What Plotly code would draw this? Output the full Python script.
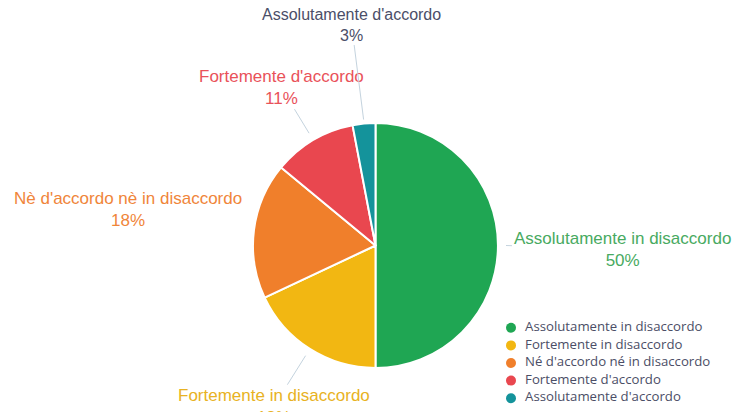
import math
import plotly.graph_objects as go

# Survey answers, in the order they appear in the legend
categories = [
    "Assolutamente in disaccordo",
    "Fortemente in disaccordo",
    "Nè d'accordo nè in disaccordo",
    "Fortemente d'accordo",
    "Assolutamente d'accordo",
]
legend_names = [
    "Assolutamente in disaccordo",
    "Fortemente in disaccordo",
    "Né d'accordo né in disaccordo",
    "Fortemente d'accordo",
    "Assolutamente d'accordo",
]
shares = [50, 18, 18, 11, 3]

slice_colors = ["#1fa653", "#f2b712", "#f07f2b", "#e9474f", "#14939b"]
label_colors = ["#48aa61", "#e8b223", "#f0853a", "#e9525a", "#4b4e68"]
label_sizes = [17, 17, 17, 17, 16]
# text offsets (px) from each leader-line tip
label_offsets = [(116, 4), (-32, 51), (-122, -20), (-28, -46), (-12, -95)]
tip_radius_extra = [8, 8, 4, 8, 4]
show_leader = [True, True, False, True, True]

W, H = 744, 412
CX, CY, R = 375.5, 245.5, 122.5

fig = go.Figure()

fig.add_trace(go.Pie(
    labels=categories,
    values=shares,
    sort=False,
    direction="clockwise",
    rotation=0,
    marker=dict(colors=slice_colors, line=dict(color="white", width=2)),
    textinfo="none",
    hoverinfo="label+percent",
    showlegend=False,
    domain=dict(x=[(CX - R) / W, (CX + R) / W],
                y=[1 - (CY + R) / H, 1 - (CY - R) / H]),
))

# Key: one round marker per answer, stacked on a hidden axis
rows = list(range(len(legend_names)))
fig.add_trace(go.Scatter(
    x=[0] * len(rows), y=rows,
    mode="markers+text",
    marker=dict(symbol="circle", size=10, color=slice_colors),
    text=["  " + n for n in legend_names],
    textposition="middle right",
    textfont=dict(family="Open Sans, sans-serif", size=13.2, color="#4b4e66"),
    cliponaxis=False,
    hoverinfo="skip",
    showlegend=False,
))

# Outside labels with leader lines, placed at each slice's mid-angle
total = sum(shares)
cum = 0.0
annotations = []
for i, v in enumerate(shares):
    mid = (cum + v / 2) / total * 2 * math.pi
    cum += v
    r = R + tip_radius_extra[i]
    tx = CX + r * math.sin(mid)
    ty = CY - r * math.cos(mid)
    pct = round(v / total * 100)
    ax, ay = label_offsets[i]
    ann = dict(
        x=tx / W, y=1 - ty / H, xref="paper", yref="paper",
        text=f"{categories[i]}<br>{pct}%",
        font=dict(family="Liberation Sans, Arial, sans-serif",
                  size=label_sizes[i], color=label_colors[i]),
        align="center",
    )
    if show_leader[i]:
        ann.update(showarrow=True, arrowhead=0, arrowwidth=1,
                   arrowcolor="#c4d3de", ax=ax, ay=ay, standoff=0)
    else:
        ann.update(showarrow=False, xshift=ax, yshift=-ay)
    annotations.append(ann)

fig.update_layout(
    width=W, height=H,
    margin=dict(l=0, r=0, t=0, b=0, autoexpand=False),
    paper_bgcolor="white",
    plot_bgcolor="white",
    xaxis=dict(visible=False, domain=[511 / W, 1.0], range=[0, 1],
               fixedrange=True),
    yaxis=dict(visible=False, domain=[1 - 407 / H, 1 - 319 / H],
               range=[4.5, -0.5], fixedrange=True),
    annotations=annotations,
    showlegend=False,
)

fig.write_html("out.html")
